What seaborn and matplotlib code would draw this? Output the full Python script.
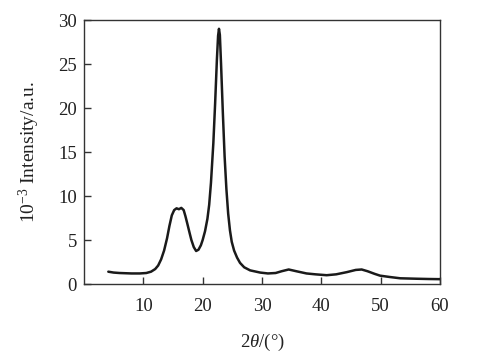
import matplotlib
matplotlib.use("Agg")
import matplotlib.pyplot as plt
import seaborn as sns
import pandas as pd

two_theta = [4.1, 5.0, 6.0, 8.0, 9.4, 10.5, 11.3, 12.0, 12.5, 13.0, 13.5, 14.0, 14.4,
             14.8, 15.2, 15.6, 16.0, 16.4, 16.8, 17.1, 17.4, 17.8, 18.1, 18.5,
             18.9, 19.3, 19.7, 20.0, 20.4, 20.8, 21.1, 21.4, 21.8, 22.1, 22.4,
             22.6, 22.75, 22.9, 23.1, 23.4, 23.7, 24.0, 24.3, 24.6, 24.9, 25.3,
             25.8, 26.3, 27.0, 28.0, 29.7, 31.0, 32.3, 33.3, 34.5, 35.8, 37.5,
             39.0, 40.9, 42.5, 44.3, 45.8, 46.8, 47.8, 49.0, 49.9, 51.5, 53.3,
             56.0, 58.0, 60.0]
intensity = [1.4, 1.3, 1.25, 1.2, 1.2, 1.25, 1.4, 1.7, 2.1, 2.8, 3.8, 5.2, 6.6,
             7.8, 8.4, 8.6, 8.5, 8.65, 8.4, 7.7, 6.9, 5.8, 5.0, 4.2,
             3.75, 3.9, 4.4, 5.0, 6.0, 7.4, 9.0, 11.5, 16.0, 20.5, 25.5,
             28.2, 29.0, 28.3, 25.0, 19.5, 14.5, 10.8, 8.0, 6.1, 4.8, 3.8,
             3.0, 2.4, 1.9, 1.55, 1.3, 1.2, 1.25, 1.45, 1.65, 1.45, 1.2,
             1.1, 1.0, 1.1, 1.35, 1.6, 1.65, 1.45, 1.15, 0.95, 0.8, 0.65,
             0.6, 0.57, 0.55]

x_ticks = [10, 20, 30, 40, 50, 60]
y_ticks = [0, 5, 10, 15, 20, 25, 30]

sns.set_theme(style="ticks")
plt.rcParams["font.family"] = ["Liberation Serif", "DejaVu Serif"]
plt.rcParams["mathtext.fontset"] = "custom"
plt.rcParams["mathtext.rm"] = "Liberation Serif"
plt.rcParams["mathtext.it"] = "Liberation Serif:italic"

df = pd.DataFrame({"x": two_theta, "y": intensity})

fig = plt.figure(figsize=(4.78, 3.63), dpi=100)
ax = fig.add_axes([0.1757, 0.2176, 0.7448, 0.7273])
sns.lineplot(data=df, x="x", y="y", ax=ax, color="#1a1a1a", linewidth=1.8, estimator=None)

ax.set_xlim(0, 60)
ax.set_ylim(0, 30)
ax.set_xticks(x_ticks)
ax.set_yticks(y_ticks)
ax.tick_params(direction="in", length=5, width=1, colors="#333333", labelcolor="#222222",
               labelsize=13.5, top=False, right=False)
ax.tick_params(axis="x", pad=10)
ax.tick_params(axis="y", pad=5)
for s in ax.spines.values():
    s.set_visible(True)
    s.set_color("#333333")
    s.set_linewidth(1.0)

ax.set_xlabel(r"2$\theta$/(°)", fontsize=13.5, color="#222222", labelpad=12)
ax.set_ylabel(r"10$^{-3}$ Intensity/a.u.", fontsize=14, color="#222222", labelpad=12)

fig.savefig("out.png", dpi=100)
